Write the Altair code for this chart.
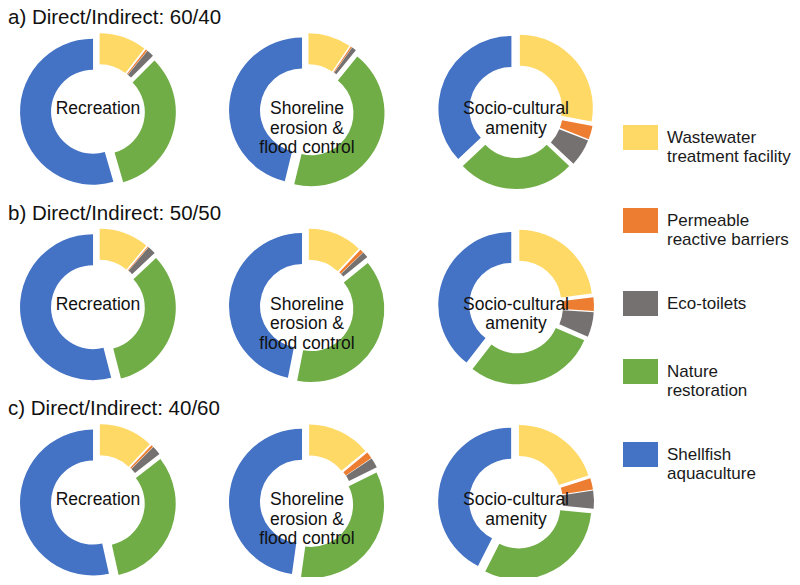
import altair as alt
import pandas as pd

# ---- data ----
categories = ["Wastewater treatment facility", "Permeable reactive barriers",
              "Eco-toilets", "Nature restoration", "Shellfish aquaculture"]
colors = ["#FFD966", "#ED7D31", "#767171", "#70AD47", "#4472C4"]

scenarios = ["a) Direct/Indirect: 60/40", "b) Direct/Indirect: 50/50",
             "c) Direct/Indirect: 40/60"]
services = ["Recreation", "Shoreline erosion & flood control", "Socio-cultural amenity"]
service_lines = [["Recreation"], ["Shoreline", "erosion &", "flood control"],
                 ["Socio-cultural", "amenity"]]

# shares (%) per service, in category order
shares_a = [[10.5, 0.4, 1.6, 33.0, 54.5],
            [9.5, 0.3, 1.0, 43.0, 46.2],
            [28.0, 3.0, 6.0, 26.0, 37.0]]
shares_b = [[11.0, 0.2, 1.8, 33.0, 54.0],
            [12.0, 0.8, 1.3, 39.0, 46.9],
            [23.0, 3.0, 5.5, 29.0, 39.5]]
shares_c = [[12.0, 0.5, 2.0, 32.0, 53.5],
            [14.0, 1.5, 2.2, 34.5, 47.8],
            [20.0, 2.5, 4.0, 31.0, 42.5]]
all_shares = [shares_a, shares_b, shares_c]

rows = []
for r, block in enumerate(all_shares):
    for c, vals in enumerate(block):
        for k, v in enumerate(vals):
            rows.append({"row": r, "col": c, "k": k, "category": categories[k],
                         "value": v})
df = pd.DataFrame(rows)

lab = pd.DataFrame([{"row": r, "col": c, "lines": service_lines[c]}
                    for r in range(3) for c in range(3)])
tit = pd.DataFrame([{"row": r, "title": s} for r, s in enumerate(scenarios)])

# ---- layout ----
W, H = 784, 569
XU, YU = 209.0, 195.5          # pixels per column / row
X0, Y0 = 90.0, 103.0           # first donut centre (px)
EXPL = 5.0                     # explosion offset (px)
xs = alt.Scale(domain=[-X0 / XU, (W - X0) / XU], nice=False, zero=False)
ys = alt.Scale(domain=[-Y0 / YU, (H - Y0) / YU], nice=False, zero=False, reverse=True)
FONT = "Liberation Sans"

arcs = alt.Chart(df).transform_joinaggregate(
    total="sum(value)", groupby=["row", "col"]
).transform_window(
    cum="sum(value)", sort=[alt.SortField("k")], groupby=["row", "col"], frame=[None, 0]
).transform_calculate(
    t0="(datum.cum - datum.value) / datum.total",
    t1="datum.cum / datum.total",
    mid="PI * (2 * datum.cum - datum.value) / datum.total",
).transform_calculate(
    cx=f"datum.col + {EXPL} * sin(datum.mid) / {XU}",
    cy=f"datum.row - {EXPL} * cos(datum.mid) / {YU}",
).mark_arc(outerRadius=73, innerRadius=42, stroke=None).encode(
    x=alt.X("cx:Q", scale=xs, axis=None),
    y=alt.Y("cy:Q", scale=ys, axis=None),
    theta=alt.Theta("t0:Q", scale=alt.Scale(domain=[0, 1], range=[0, 6.283185307])),
    theta2="t1:Q",
    color=alt.Color(
        "category:N",
        scale=alt.Scale(domain=categories, range=colors),
        legend=alt.Legend(
            orient="none", legendX=615, legendY=112, title=None,
            symbolType="M-1,-0.714H1V0.714H-1Z", symbolSize=1225,
            symbolOpacity=1, symbolStrokeWidth=0,
            labelFont=FONT, labelFontSize=17, labelColor="#1a1a1a",
            labelOffset=9, labelLimit=300, rowPadding=38, padding=0,
            labelExpr="indexof(datum.label, ' ') > 0 ? "
                      "[slice(datum.label, 0, indexof(datum.label, ' ')), "
                      "slice(datum.label, indexof(datum.label, ' ') + 1)] : datum.label",
        ),
    ),
    order=alt.Order("k:Q"),
)

labels = alt.Chart(lab).mark_text(
    font=FONT, fontSize=17.5, color="#111", lineHeight=19.5, baseline="middle",
    align="center", dy=-2,
).encode(
    x=alt.X("col:Q", scale=xs, axis=None),
    y=alt.Y("row:Q", scale=ys, axis=None),
    text="lines",
)

titles = alt.Chart(tit).transform_calculate(
    tx=f"{-X0 / XU}", ty=f"datum.row - {87.0 / YU}"
).mark_text(
    font=FONT, fontSize=20.5, color="#111", align="left", baseline="alphabetic",
).encode(
    x=alt.X("tx:Q", scale=xs, axis=None),
    y=alt.Y("ty:Q", scale=ys, axis=None),
    text="title:N",
)

chart = alt.layer(arcs, labels, titles).properties(
    width=W, height=H, padding=0, autosize=alt.AutoSizeParams(type="none"),
    background="white",
).configure_view(stroke=None)

chart.save("out.html", embed_options={"renderer": "svg", "actions": False})
